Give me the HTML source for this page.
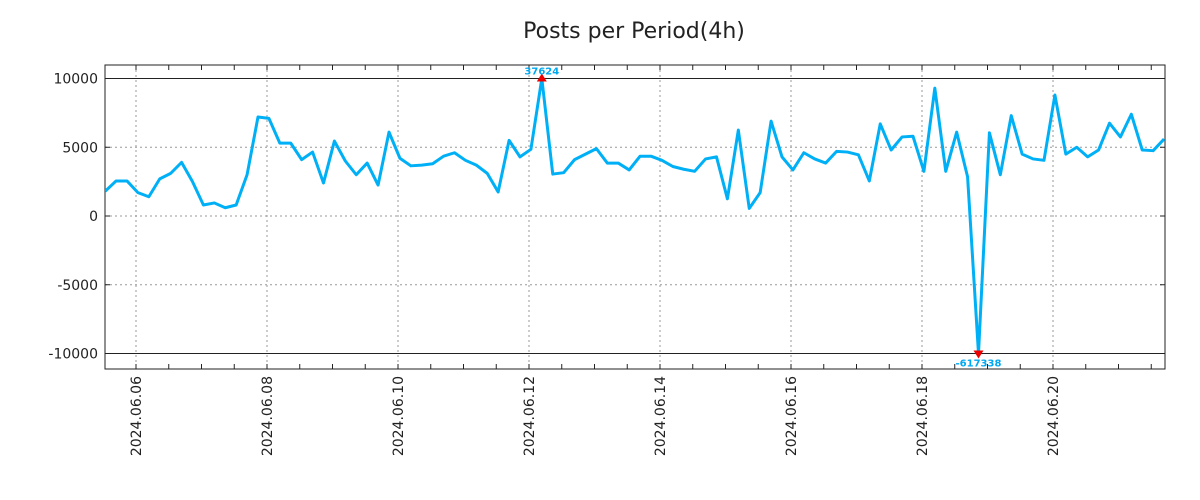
<!DOCTYPE html>
<html><head><meta charset="utf-8"><style>
html,body{margin:0;padding:0;background:#fff;}
svg{display:block;font-family:"DejaVu Sans","Liberation Sans",sans-serif;}
</style></head><body>
<svg id="chart" width="1200" height="500">
<text x="634" y="38" text-anchor="middle" font-size="22" fill="#222">Posts per Period(4h)</text>
<defs><clipPath id="clip"><rect x="105" y="65" width="1060" height="304"/></clipPath></defs>
<g id="grid"></g><g id="axes"></g><g id="series" clip-path="url(#clip)"></g><g id="marks"></g>
</svg>
<script>
const startHour = -11.3; // hours relative to 2024-06-06 00:00
const stepHours = 4;
const values = [1800,2550,2550,1700,1400,2700,3100,3900,2500,800,950,600,800,3000,7200,7100,5300,5300,4100,4650,2400,5450,4000,3000,3850,2250,6100,4200,3650,3700,3800,4350,4600,
4050,3700,3100,1750,5500,4300,4850,37624,3050,3150,4100,4500,4900,3850,3850,3350,4350,4350,4050,3600,3400,3250,4150,4300,1250,6250,550,1700,6900,4300,3350,4600,
4150,3850,4700,4650,4450,2550,6700,4800,5750,5800,3250,9300,3250,6100,2850,-617338,6050,3000,7300,4500,4150,4050,8800,4500,5000,4300,4800,6750,5750,7400,4800,4750,5600];
const yTicks = [10000,5000,0,-5000,-10000];
const yTickLabels = ["10000","5000","0","-5000","-10000"];
const xTickDays = [0,2,4,6,8,10,12,14];
const xTickLabels = ["2024.06.06","2024.06.08","2024.06.10","2024.06.12","2024.06.14","2024.06.16","2024.06.18","2024.06.20"];
const clipMax = 10000, clipMin = -10000;

const L=105,R=1165,T=65,B=369;
const x = h => 136 + h*65.5/24;
const y = v => 216 - v*0.01375;
const NS="http://www.w3.org/2000/svg";
function mk(tag,attrs,parent){const e=document.createElementNS(NS,tag);for(const k in attrs)e.setAttribute(k,attrs[k]);parent.appendChild(e);return e;}
const grid=document.getElementById('grid'),axes=document.getElementById('axes'),series=document.getElementById('series'),marks=document.getElementById('marks');

yTicks.forEach((v,i)=>{
  const yy=y(v);
  const solid = Math.abs(v)===10000;
  const ln=mk('line',{x1:L,x2:R,y1:yy,y2:yy,stroke:solid?'#222':'#999','stroke-width':1,'stroke-dasharray':solid?'none':'2,3'},grid);
  
  
  const t=mk('text',{x:98,y:yy+5,'text-anchor':'end','font-size':14,fill:'#222'},axes);
  t.textContent=yTickLabels[i];
  
  
  mk('line',{x1:L,x2:L+5,y1:yy,y2:yy,stroke:'#222'},axes);
  mk('line',{x1:R-5,x2:R,y1:yy,y2:yy,stroke:'#222'},axes);
});
for(let d=-0.5; d<=16; d+=0.5){
  const xx=x(d*24); if(xx<L||xx>R) continue;
  mk('line',{x1:xx,x2:xx,y1:T,y2:T+5,stroke:'#222'},axes);
  mk('line',{x1:xx,x2:xx,y1:B-5,y2:B,stroke:'#222'},axes);
}
xTickDays.forEach((d,i)=>{
  const xx=x(d*24);
  const ln=mk('line',{x1:xx,x2:xx,y1:T,y2:B,stroke:'#999','stroke-dasharray':'2,3'},grid);
  
  
  const t=mk('text',{x:0,y:0,'text-anchor':'end','font-size':14,fill:'#222',transform:`translate(${xx+5},${B+7}) rotate(-90)`},axes);
  t.textContent=xTickLabels[i];
  
  
});
const frame=mk('rect',{x:L,y:T,width:R-L,height:B-T,fill:'none',stroke:'#222'},axes);



const pts=values.map((v,i)=>[x(startHour+i*stepHours), y(Math.max(clipMin,Math.min(clipMax,v)))]);
const line=mk('polyline',{points:pts.map(p=>p.join(',')).join(' '),fill:'none',stroke:'#00b0f6','stroke-width':3,'stroke-linejoin':'round'},series);



values.forEach((v,i)=>{
  if(v<=clipMax && v>=clipMin) return;
  const [px,py]=pts[i];
  const up = v>clipMax;
  const tri=mk('polygon',{points: up?`${px-5},${py+3} ${px+5},${py+3} ${px},${py-5}`:`${px-5},${py-3} ${px+5},${py-3} ${px},${py+5}`,fill:'#e00'},marks);
  
  
  const t=mk('text',{x:px,y:up?py-4:py+13,'text-anchor':'middle','font-size':10,'font-weight':'bold',fill:'#00a8f0'},marks);
  t.textContent=String(v);
  
  
});
</script>
</body></html>
